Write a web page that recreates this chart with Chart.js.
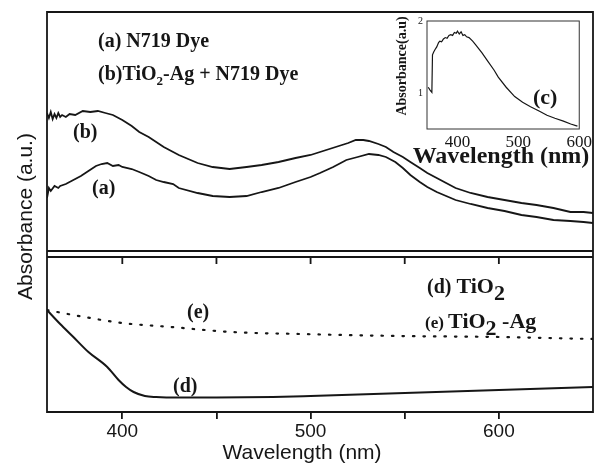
<!DOCTYPE html>
<html>
<head>
<meta charset="utf-8">
<script src="https://cdn.jsdelivr.net/npm/chart.js@4.4.0/dist/chart.umd.min.js"></script>
<style>
  html, body { margin: 0; padding: 0; background: #fff; }
  #wrap { position: relative; width: 595px; height: 464px; }
  #main { position: absolute; left: 0; top: 0; }
  #inset { position: absolute; left: 390px; top: 8px; }
</style>
</head>
<body>
<div id="wrap">
  <canvas id="main" width="595" height="464"></canvas>
  <canvas id="inset" width="205" height="165"></canvas>
</div>
<script>
// (b) TiO2-Ag + N719 dye
const wlB = [360,361,362,363,364,365,366,367,368,370,372,375,379,383,387,391,395,400,405,409,414,418,422,427,430,435,440,448,457,466,474,483,492,500,505,510,515,520,524,528,531,536,540,544,549,553,558,562,567,572,577,585,594,603,612,620,629,638,645,650];
const absB = [1.44,1.39,1.45,1.38,1.43,1.39,1.44,1.40,1.42,1.40,1.43,1.42,1.46,1.45,1.46,1.44,1.42,1.37,1.31,1.25,1.20,1.15,1.10,1.05,1.02,0.98,0.94,0.90,0.88,0.90,0.92,0.95,0.99,1.02,1.05,1.08,1.11,1.14,1.17,1.17,1.16,1.13,1.10,1.05,1.00,0.95,0.89,0.84,0.79,0.74,0.69,0.64,0.60,0.57,0.54,0.52,0.49,0.45,0.45,0.44];

// (a) N719 dye
const wlA = [360,361,362,364,366,367,370,374,378,382,386,389,392,395,398,400,405,409,414,418,422,427,430,440,448,457,466,474,483,492,500,505,512,519,525,531,536,540,545,549,553,558,562,567,572,577,585,594,603,612,620,629,638,645,650];
const absA = [0.59,0.69,0.66,0.71,0.69,0.71,0.73,0.77,0.81,0.86,0.91,0.93,0.94,0.91,0.92,0.90,0.88,0.85,0.81,0.77,0.75,0.73,0.69,0.64,0.61,0.60,0.61,0.65,0.69,0.75,0.80,0.84,0.90,0.97,1.00,1.03,1.02,1.00,0.95,0.89,0.82,0.75,0.70,0.65,0.61,0.57,0.53,0.49,0.46,0.42,0.40,0.37,0.36,0.35,0.34];

// (d) TiO2
const wlD = [360,367,374,382,392,398,402,406,412,418,430,450,480,500,550,600,650];
const absD = [1.02,0.88,0.75,0.60,0.45,0.32,0.25,0.20,0.16,0.15,0.145,0.145,0.15,0.16,0.19,0.22,0.25];

// (e) TiO2-Ag
const wlE = [360,374,400,426,458,494,547,600,650];
const absE = [1.02,0.97,0.89,0.85,0.80,0.78,0.76,0.75,0.73];

// (c) inset
const wlC = [352,355,358,359,361,363,366,369,371,374,377,380,383,386,389,392,395,398,400,403,406,409,412,415,419,425,430,440,450,460,467,480,494,507,520,534,547,560,574,586,597];
const absC = [1.08,1.04,1.01,1.53,1.57,1.60,1.64,1.70,1.72,1.71,1.75,1.77,1.76,1.80,1.81,1.80,1.84,1.83,1.86,1.82,1.85,1.80,1.81,1.78,1.77,1.72,1.67,1.56,1.44,1.32,1.22,1.08,0.95,0.87,0.81,0.75,0.69,0.65,0.61,0.57,0.54];

const xTicks = [400, 450, 500, 550, 600];
const insetXTicks = [400, 500, 600];
const insetYTicks = [1, 2];

const pts = (xs, ys) => xs.map((x, i) => ({ x: x, y: ys[i] }));
const ink = '#161616';
const serifB = s => 'bold ' + s + 'px "Liberation Serif"';

function runs(ctx, x, y, parts) {
  parts.forEach(p => {
    ctx.font = p[1];
    ctx.fillText(p[0], x, y + (p[2] || 0));
    x += ctx.measureText(p[0]).width;
  });
}

const frame = {
  id: 'frame',
  afterDraw(chart) {
    const { ctx, chartArea: a, scales } = chart;
    const split = scales.yBot.top;
    ctx.save();
    ctx.strokeStyle = ink;
    ctx.lineWidth = 1.8;
    ctx.beginPath();
    ctx.rect(a.left, a.top, a.right - a.left, a.bottom - a.top);
    ctx.moveTo(a.left, split - 6); ctx.lineTo(a.right, split - 6);
    ctx.moveTo(a.left, split); ctx.lineTo(a.right, split);
    xTicks.forEach(v => {
      const px = scales.x.getPixelForValue(v);
      ctx.moveTo(px, split); ctx.lineTo(px, split + 7);
    });
    ctx.stroke();

    ctx.fillStyle = ink;
    ctx.textAlign = 'left';
    ctx.textBaseline = 'alphabetic';
    runs(ctx, 98, 47, [['(a) N719 Dye', serifB(20)]]);
    runs(ctx, 98, 80, [['(b)TiO', serifB(20)], ['2', serifB(13), 5], ['-Ag + N719 Dye', serifB(20)]]);
    runs(ctx, 73, 138, [['(b)', serifB(20)]]);
    runs(ctx, 92, 194, [['(a)', serifB(20)]]);
    runs(ctx, 187, 318, [['(e)', serifB(20)]]);
    runs(ctx, 173, 392, [['(d)', serifB(20)]]);
    runs(ctx, 427, 293, [['(d) ', serifB(20)], ['TiO', serifB(22)], ['2', serifB(22), 7]]);
    runs(ctx, 425, 328, [['(e) ', serifB(17)], ['TiO', serifB(22)], ['2', serifB(22), 7], [' -Ag', serifB(22)]]);

    ctx.font = '21px "Liberation Sans"';
    ctx.textAlign = 'center';
    ctx.fillText('Wavelength (nm)', 302, 459);

    ctx.translate(32, 300);
    ctx.rotate(-Math.PI / 2);
    ctx.textAlign = 'left';
    ctx.fillText('Absorbance (a.u.)', 0, 0);
    ctx.restore();
  }
};

const hiddenY = (weight, max) => ({
  type: 'linear',
  position: 'left',
  stack: 'panels',
  stackWeight: weight,
  min: 0,
  max: max,
  ticks: { display: false },
  grid: { display: false },
  border: { display: false },
  afterFit(s) { s.width = 0; }
});

new Chart(document.getElementById('main'), {
  type: 'line',
  data: {
    datasets: [
      { label: '(a) N719 Dye', data: pts(wlA, absA), yAxisID: 'yTop', borderColor: ink, borderWidth: 1.8, pointRadius: 0 },
      { label: '(b) TiO2-Ag + N719 Dye', data: pts(wlB, absB), yAxisID: 'yTop', borderColor: ink, borderWidth: 1.8, pointRadius: 0 },
      { label: '(d) TiO2', data: pts(wlD, absD), yAxisID: 'yBot', borderColor: ink, borderWidth: 2, pointRadius: 0, cubicInterpolationMode: 'monotone' },
      { label: '(e) TiO2-Ag', data: pts(wlE, absE), yAxisID: 'yBot', borderColor: ink, borderWidth: 2.2, pointRadius: 0, borderDash: [1.5, 9], borderCapStyle: 'round', cubicInterpolationMode: 'monotone' }
    ]
  },
  options: {
    responsive: false,
    animation: false,
    layout: { padding: { left: 47, right: 2, top: 12, bottom: 0 } },
    plugins: { legend: { display: false }, tooltip: { enabled: false } },
    scales: {
      x: {
        type: 'linear',
        min: 360,
        max: 650,
        afterBuildTicks(s) { s.ticks = xTicks.map(v => ({ value: v })); },
        afterFit(s) { s.height = 52; },
        ticks: {
          padding: 1,
          color: ink,
          font: { family: 'Liberation Sans', size: 19 },
          callback: v => (v % 100 === 0 ? String(v) : '')
        },
        grid: { drawOnChartArea: false, color: ink, lineWidth: 1.8, tickLength: 7 },
        border: { display: false }
      },
      yBot: hiddenY(155, 1.55),
      yTop: hiddenY(245, 2.45)
    }
  },
  plugins: [frame]
});

const insetFrame = {
  id: 'insetFrame',
  afterDraw(chart) {
    const { ctx, chartArea: a } = chart;
    ctx.save();
    ctx.strokeStyle = '#333';
    ctx.lineWidth = 1;
    ctx.strokeRect(a.left, a.top, a.right - a.left, a.bottom - a.top);
    ctx.fillStyle = ink;
    ctx.textAlign = 'left';
    ctx.textBaseline = 'alphabetic';
    ctx.font = serifB(22);
    ctx.fillText('(c)', 143, 96);
    ctx.font = serifB(24);
    ctx.textAlign = 'center';
    ctx.fillText('Wavelength (nm)', 111, 155);
    ctx.font = serifB(14);
    ctx.textBaseline = 'middle';
    ctx.translate(12, 58);
    ctx.rotate(-Math.PI / 2);
    ctx.fillText('Absorbance(a.u)', 0, 0);
    ctx.restore();
  }
};

new Chart(document.getElementById('inset'), {
  type: 'line',
  data: {
    datasets: [
      { label: '(c)', data: pts(wlC, absC), borderColor: ink, borderWidth: 1.2, pointRadius: 0 }
    ]
  },
  options: {
    responsive: false,
    animation: false,
    layout: { padding: { left: 4, right: 14, top: 13, bottom: 0 } },
    plugins: { legend: { display: false }, tooltip: { enabled: false } },
    scales: {
      x: {
        type: 'linear',
        min: 350,
        max: 600,
        afterBuildTicks(s) { s.ticks = insetXTicks.map(v => ({ value: v })); },
        afterFit(s) { s.height = 44; },
        ticks: { padding: 3, color: ink, font: { family: 'Liberation Serif', size: 17 } },
        grid: { display: false, drawTicks: false },
        border: { display: false }
      },
      y: {
        type: 'linear',
        min: 0.5,
        max: 2,
        afterBuildTicks(s) { s.ticks = insetYTicks.map(v => ({ value: v })); },
        afterFit(s) { s.width = 33; },
        ticks: { padding: 4, color: ink, font: { family: 'Liberation Serif', size: 10 } },
        grid: { display: false, drawTicks: false },
        border: { display: false }
      }
    }
  },
  plugins: [insetFrame]
});
</script>
</body>
</html>
